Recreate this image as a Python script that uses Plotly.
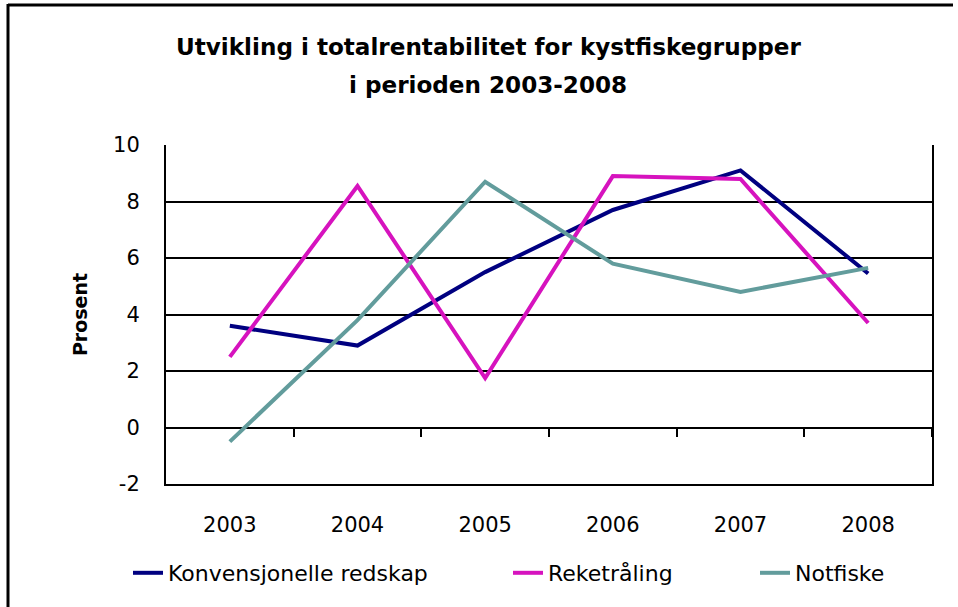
import plotly.graph_objects as go

years = ["2003", "2004", "2005", "2006", "2007", "2008"]
konvensjonelle = [3.6, 2.9, 5.5, 7.7, 9.1, 5.45]
reketraling = [2.5, 8.55, 1.75, 8.9, 8.8, 3.7]
notfiske = [-0.5, 3.8, 8.7, 5.8, 4.8, 5.65]

series_names = ["Konvensjonelle redskap", "Reketråling", "Notfiske"]
series_values = [konvensjonelle, reketraling, notfiske]
series_colors = ["#000080", "#D613BE", "#629C9C"]

title_lines = ["Utvikling i totalrentabilitet for kystfiskegrupper", "i perioden 2003-2008"]
y_ticks = [-2, 0, 2, 4, 6, 8, 10]
y_ticktext = ["-2", "0", "2", "4", "6", "8", "10"]
FONT = "DejaVu Sans, sans-serif"

PW, PH = 766, 339  # plot area size in px (for paper-coordinate placement)
legend_ids = ["legend", "legend2", "legend3"]
legend_left_px = [128, 508, 755]

fig = go.Figure()
for name, vals, col, lg in zip(series_names, series_values, series_colors, legend_ids):
    fig.add_trace(go.Scatter(x=years, y=vals, mode="lines", name=name, legend=lg,
                             line=dict(color=col, width=4)))

# invisible helper trace so the tick-mark axis along the zero line is drawn
fig.add_trace(go.Scatter(x=[0], y=[0], xaxis="x2", yaxis="y", mode="markers",
                         marker=dict(opacity=0), showlegend=False, hoverinfo="skip"))

legend_common = dict(orientation="h", xanchor="left", y=(484 - 573) / PH, yanchor="middle",
                     font=dict(size=22), bgcolor="rgba(0,0,0,0)")

fig.update_layout(
    width=958, height=607,
    paper_bgcolor="white", plot_bgcolor="white",
    margin=dict(l=166, r=26, t=145, b=123),
    font=dict(family=FONT, color="black", size=21),
    xaxis=dict(type="category", categoryarray=years, range=[-0.5, 5.5],
               showgrid=False, ticks="", showline=True, linecolor="black", linewidth=2,
               tickfont=dict(size=21), ticklabelstandoff=21, fixedrange=True),
    xaxis2=dict(overlaying="x", anchor="free", position=2/12, range=[-0.5, 5.5],
                tickvals=[0.5, 1.5, 2.5, 3.5, 4.5, 5.5], ticks="outside", ticklen=8,
                tickwidth=2, tickcolor="black", showticklabels=False, showgrid=False,
                showline=False, zeroline=False),
    yaxis=dict(range=[-2, 10], tickvals=y_ticks, ticktext=y_ticktext, showgrid=True,
               gridcolor="black", gridwidth=2, zeroline=True, zerolinecolor="black",
               zerolinewidth=2, showline=True, linecolor="black", linewidth=2, mirror=True,
               ticks="", ticklabelstandoff=20, tickfont=dict(size=21),
               title=dict(text="<b>Prosent</b>", font=dict(size=19), standoff=20)),
    legend=dict(x=(legend_left_px[0] - 166) / PW, **legend_common),
    legend2=dict(x=(legend_left_px[1] - 166) / PW, **legend_common),
    legend3=dict(x=(legend_left_px[2] - 166) / PW, **legend_common),
    showlegend=True,
    annotations=[
        dict(text="<b>%s</b>" % title_lines[0], xref="paper", yref="paper",
             x=(488 - 166) / PW, y=1 + (145 - 47) / PH, xanchor="center", yanchor="middle",
             showarrow=False, font=dict(size=23.1, family=FONT)),
        dict(text="<b>%s</b>" % title_lines[1], xref="paper", yref="paper",
             x=(488 - 166) / PW, y=1 + (145 - 85) / PH, xanchor="center", yanchor="middle",
             showarrow=False, font=dict(size=23.1, family=FONT)),
    ],
    shapes=[
        dict(type="line", xref="paper", yref="paper", x0=(8 - 166) / PW, x1=(8 - 166) / PW,
             y0=1 + (145 - 4) / PH, y1=-0.5, line=dict(color="black", width=3)),
        dict(type="line", xref="paper", yref="paper", x0=(8 - 166) / PW, x1=(953 - 166) / PW,
             y0=1 + (145 - 5) / PH, y1=1 + (145 - 5) / PH, line=dict(color="black", width=3)),
    ],
)

fig.write_html("out.html", config={"displayModeBar": False},
               post_script="document.body.style.margin='0';document.body.style.overflow='hidden';")
